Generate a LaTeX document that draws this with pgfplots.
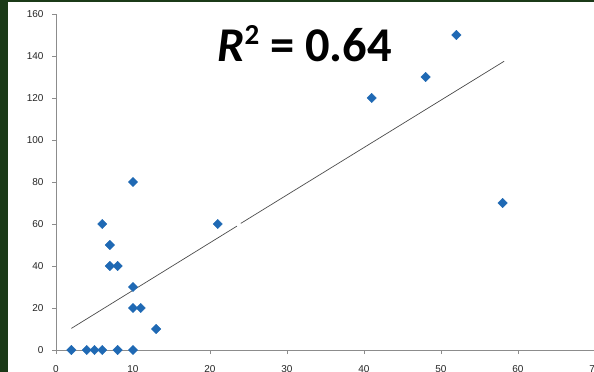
\documentclass[border=0pt]{standalone}
\usepackage{pgfplots}
\pgfplotsset{compat=1.18}
\usepackage{fontspec}
\setmainfont{Liberation Sans}
\newfontfamily\carl{Carlito}
\definecolor{bggreen}{RGB}{27,58,24}
\definecolor{ptblue}{RGB}{31,105,180}
\begin{document}
\begin{tikzpicture}
\path[use as bounding box] (0,0) rectangle (594bp,372bp);
\clip (0,0) rectangle (594bp,372bp);
\fill[bggreen] (0,0) rectangle (594bp,372bp);
\fill[white] (8bp,0) rectangle (594bp,370bp);
\begin{axis}[
  scale only axis,
  width=539bp, height=336bp,
  at={(56bp,22bp)}, anchor=south west,
  xmin=0, xmax=70, ymin=0, ymax=160,
  axis x line*=bottom, axis y line*=left,
  axis line style={draw=black!45, -},
  xtick={0,10,...,70}, ytick={0,20,...,160},
  tick align=outside,
  major tick length=4bp,
  tick style={draw=black!45},
  every tick label/.append style={font=\fontsize{10bp}{12bp}\selectfont, text=black!85},
  /pgf/number format/assume math mode=true,
  xticklabel style={yshift=-8bp},
  yticklabel style={xshift=-5bp},
  clip=false,
]
\addplot[only marks, mark=square*, mark size=3.3bp, mark options={rotate=45, fill=ptblue, draw=ptblue}]
coordinates {
(2,0)(4,0)(5,0)(6,0)(8,0)(10,0)
(6,60)(7,50)(7,40)(8,40)(10,80)(10,30)(10,20)(11,20)(13,10)
(21,60)(41,120)(48,130)(52,150)(58,70)
};
\addplot[no marks, draw=black!70, line width=0.7bp] coordinates {(2,10.3)(23.5,59.0)};
\addplot[no marks, draw=black!70, line width=0.7bp] coordinates {(24,60.3)(58.2,137.5)};
\end{axis}
\node[anchor=base west, inner sep=0pt] at (217bp,310bp)
  {\carl\fontsize{48.5bp}{52bp}\selectfont\bfseries\itshape R\upshape\raisebox{17.5bp}{\fontsize{29bp}{32bp}\selectfont 2} = 0.64};
\end{tikzpicture}
\end{document}
